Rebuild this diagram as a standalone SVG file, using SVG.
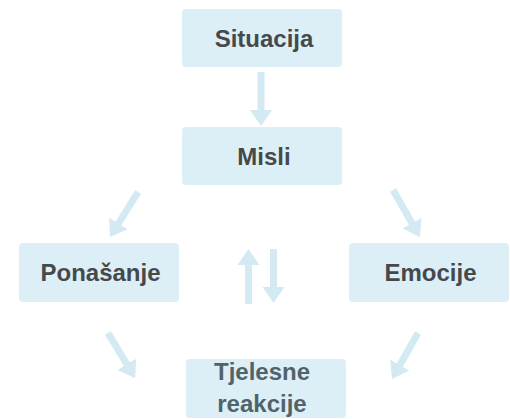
<svg xmlns="http://www.w3.org/2000/svg" width="510" height="419" viewBox="0 0 510 419">
<defs>
<style>
.box{fill:#ddeff6}
.lbl{font-family:"Liberation Sans",Arial,sans-serif;font-weight:bold;font-size:24px;fill:#46494c;text-anchor:middle}
.lbl2{fill:#50636a}
.arr{stroke:#d3eaf3;stroke-width:7;fill:none;marker-end:url(#ah)}
</style>
<marker id="ah" markerUnits="userSpaceOnUse" markerWidth="16" markerHeight="22" refX="6" refY="11" orient="auto" viewBox="0 0 16 22">
<path d="M0,0 L16,11 L0,22 Z" fill="#d3eaf3"/>
</marker>
</defs>
<g id="connectors">
<line class="arr" x1="261" y1="72" x2="261" y2="116"/>
<line class="arr" x1="138" y1="192" x2="115.3" y2="228.5"/>
<line class="arr" x1="393" y1="190" x2="415" y2="228.3"/>
<line class="arr" x1="108" y1="333" x2="129.9" y2="369.4"/>
<line class="arr" x1="418" y1="333" x2="396.9" y2="370.3"/>
<line class="arr" x1="248.5" y1="304" x2="248.5" y2="259"/>
<line class="arr" x1="273.5" y1="249" x2="273.5" y2="293"/>
</g>
<g id="situacija">
<rect class="box" x="182" y="9" width="160" height="58" rx="4"/>
<text class="lbl" x="264" y="47">Situacija</text>
</g>
<g id="misli">
<rect class="box" x="182" y="127" width="160" height="58" rx="4"/>
<text class="lbl" x="264" y="165">Misli</text>
</g>
<g id="ponasanje">
<rect class="box" x="19" y="243" width="160" height="59" rx="4"/>
<text class="lbl" x="100.5" y="281">Ponašanje</text>
</g>
<g id="emocije">
<rect class="box" x="349" y="243" width="160" height="59" rx="4"/>
<text class="lbl" x="430.5" y="281">Emocije</text>
</g>
<g id="tjelesne-reakcije">
<rect class="box" x="186" y="359" width="160" height="59" rx="4"/>
<text class="lbl lbl2" x="262" y="380">Tjelesne</text>
<text class="lbl lbl2" x="262" y="412">reakcije</text>
</g>
</svg>
